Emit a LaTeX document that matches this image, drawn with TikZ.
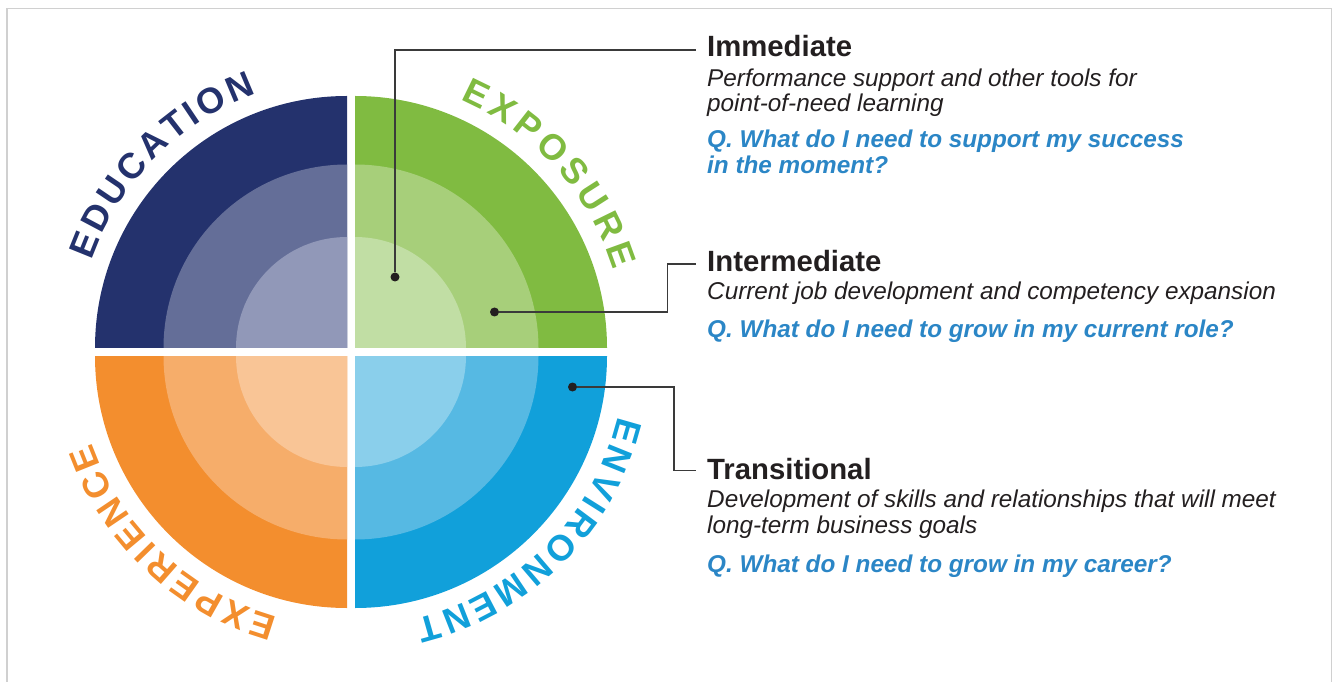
\documentclass[tikz,border=0pt]{standalone}
\usepackage{fontspec}
\setmainfont{Liberation Sans}
\definecolor{navyA}{HTML}{24326D}
\definecolor{navyB}{HTML}{646E98}
\definecolor{navyC}{HTML}{9198B8}
\definecolor{greenA}{HTML}{80BB41}
\definecolor{greenB}{HTML}{A7CF7A}
\definecolor{greenC}{HTML}{C1DEA4}
\definecolor{orangeA}{HTML}{F38E2E}
\definecolor{orangeB}{HTML}{F6AD6A}
\definecolor{orangeC}{HTML}{F9C596}
\definecolor{blueA}{HTML}{11A0DA}
\definecolor{blueB}{HTML}{56B9E3}
\definecolor{blueC}{HTML}{8ACFEB}
\definecolor{inkc}{HTML}{231F20}
\definecolor{qblue}{HTML}{2B86C6}
\definecolor{linec}{HTML}{3A3A3A}
\definecolor{framec}{HTML}{D0D0D0}

% #1 first letter centre angle, #2 baseline radius, #3 extra gap, #4 colour, #5 name prefix, #6 letters
\newcommand\arcword[6]{%
  \xdef\curang{#1}\xdef\prevw{0}%
  \foreach \ch/\w [count=\i] in {#6}{%
    \ifnum\i>1
      \pgfmathparse{\curang - ((\prevw+\w)/2*36 + #3)/#2*57.29578}%
      \xdef\curang{\pgfmathresult}%
    \fi
    \node[arcletter, text=#4, rotate=\curang-90] (#5\i) at (\curang:#2pt) {\ch};
    \xdef\prevw{\w}%
  }%
}
% #1 corner, #2 start angle, #3 #4 #5 colours
\newcommand\quadpiece[5]{%
  \fill[#3] (#1) -- ++(#2:252pt) arc[start angle=#2, delta angle=90, radius=252pt] -- cycle;
  \fill[#4] (#1) -- ++(#2:183.5pt) arc[start angle=#2, delta angle=90, radius=183.5pt] -- cycle;
  \fill[#5] (#1) -- ++(#2:111pt) arc[start angle=#2, delta angle=90, radius=111pt] -- cycle;
}

\begin{document}
\begin{tikzpicture}[x=1pt,y=1pt,
  arcletter/.style={inner sep=0pt, anchor=base, font=\fontsize{36}{40}\selectfont\bfseries},
  head/.style={inner sep=0pt, anchor=base west, text=inkc, font=\fontsize{29.3}{34}\selectfont\bfseries},
  desc/.style={inner sep=0pt, anchor=base west, text=inkc, font=\fontsize{24.3}{28}\selectfont\itshape},
  ques/.style={inner sep=0pt, anchor=base west, text=qblue, font=\fontsize{24.3}{28}\selectfont\bfseries\itshape},
  leader/.style={draw=linec, line width=1.2pt},
  dot/.style={circle, fill=inkc, inner sep=0pt, minimum size=9pt}]
\useasboundingbox (0,0) rectangle (1333,681);
\draw[framec, line width=1.5pt] (7,-10) -- (7,672.5) -- (1331.5,672.5) -- (1331.5,-10);

% quadrants
\coordinate (qtl) at (347,333);
\coordinate (qtr) at (355,333);
\coordinate (qbl) at (347,325);
\coordinate (qbr) at (355,325);
\quadpiece{qtl}{90}{navyA}{navyB}{navyC}
\quadpiece{qtr}{0}{greenA}{greenB}{greenC}
\quadpiece{qbl}{180}{orangeA}{orangeB}{orangeC}
\quadpiece{qbr}{270}{blueA}{blueB}{blueC}

% curved words
\begin{scope}[shift={(351,329)}]
\arcword{158}{275}{3.5}{navyA}{edu}{E/.667,D/.722,U/.722,C/.722,A/.722,T/.611,I/.278,O/.778,N/.722}
\arcword{64}{275}{5.1}{greenA}{exo}{E/.667,X/.667,P/.667,O/.778,S/.667,U/.722,R/.722,E/.667}
\arcword{252}{275}{3.65}{orangeA}{exp}{E/.667,X/.667,P/.667,E/.667,R/.722,I/.278,E/.667,N/.722,C/.722,E/.667}
\arcword{344}{275}{3.64}{blueA}{env}{E/.667,N/.722,V/.667,I/.278,R/.722,O/.778,N/.722,M/.833,E/.667,N/.722,T/.611}
\end{scope}

% text blocks
\node[head] (h1) at (707,624) {Immediate};
\node[desc] (t1a) at (707,594) {Performance support and other tools for};
\node[desc] (t1b) at (707,569) {point-of-need learning};
\node[ques] (q1a) at (707,533) {Q. What do I need to support my success};
\node[ques] (q1b) at (707,507) {in the moment?};

\node[head] (h2) at (707,409) {Intermediate};
\node[desc] (t2a) at (707,381) {Current job development and competency expansion};
\node[ques] (q2a) at (707,344) {Q. What do I need to grow in my current role?};

\node[head] (h3) at (707,202) {Transitional};
\node[desc] (t3a) at (707,174) {Development of skills and relationships that will meet};
\node[desc] (t3b) at (707,148) {long-term business goals};
\node[ques] (q3a) at (707,109) {Q. What do I need to grow in my career?};

% leaders
\coordinate (e1) at (696,631);
\coordinate (e2) at (696,417);
\coordinate (e3) at (696,210.5);
\node[dot] (d1) at (395,404) {};
\node[dot] (d2) at (494.5,369) {};
\node[dot] (d3) at (572.5,294) {};
\draw[leader] (d1) |- (e1);
\draw[leader] (d2) -- ++(173,0) |- (e2);
\draw[leader] (d3) -- ++(101.5,0) |- (e3);
\end{tikzpicture}
\end{document}
